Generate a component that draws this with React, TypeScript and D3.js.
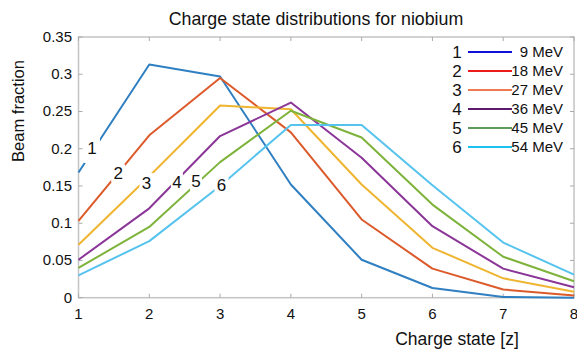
import React from "react";
import * as d3 from "d3";

const chargeStates = [1, 2, 3, 4, 5, 6, 7, 8];
const energies = ["9 MeV", "18 MeV", "27 MeV", "36 MeV", "45 MeV", "54 MeV"];
const s1 = [0.168, 0.313, 0.297, 0.152, 0.051, 0.013, 0.001, 0.0];
const s2 = [0.103, 0.218, 0.295, 0.222, 0.105, 0.039, 0.011, 0.003];
const s3 = [0.071, 0.163, 0.258, 0.253, 0.152, 0.067, 0.026, 0.008];
const s4 = [0.051, 0.12, 0.217, 0.262, 0.188, 0.096, 0.039, 0.014];
const s5 = [0.04, 0.095, 0.182, 0.251, 0.215, 0.125, 0.055, 0.022];
const s6 = [0.03, 0.076, 0.15, 0.232, 0.232, 0.151, 0.074, 0.031];
const series = [s1, s2, s3, s4, s5, s6];
const labelX = [1.19, 1.56, 1.96, 2.39, 2.66, 3.02];
const labelY = [0.201, 0.167, 0.154, 0.156, 0.157, 0.151];
const yTicks = [0, 0.05, 0.1, 0.15, 0.2, 0.25, 0.3, 0.35];
const yTickLabels = ["0", "0.05", "0.1", "0.15", "0.2", "0.25", "0.3", "0.35"];

const lineColors = ["#2f7fc1", "#dc5a2a", "#efb530", "#8a3597", "#7db33a", "#55c3ee"];
const legendColors = ["#1010d8", "#ec1c1c", "#ef7a52", "#5c1a6c", "#5e9a5c", "#1ec0f0"];
const gapSizes = [[16, 30], [14, 18], [14, 20], [12, 20], [12, 20], [14, 18]];

export default function App() {
  const W = 577, H = 349;
  const x = d3.scaleLinear().domain([1, 8]).range([78.5, 574]);
  const y = d3.scaleLinear().domain([0, 0.35]).range([297.7, 37]);
  const line = d3.line<number>().x((_, i) => x(chargeStates[i])).y((d) => y(d));
  const font = "'Liberation Sans', Arial, Helvetica, sans-serif";
  const frame = "#c4c4c4";
  return (
    <svg width={W} height={H} style={{ position: "absolute", left: 0, top: 0, background: "#fff" }} fontFamily={font}>
      <rect x={0} y={0} width={W} height={H} fill="#fff" />
      <text x={316} y={25} fontSize={17.8} textAnchor="middle" fill="#111">Charge state distributions for niobium</text>
      <rect x={x(1)} y={y(0.35)} width={x(8) - x(1)} height={y(0) - y(0.35)} fill="none" stroke={frame} strokeWidth={1.5} />
      {chargeStates.map((c) => (
        <g key={"xt" + c}>
          <line x1={x(c)} x2={x(c)} y1={y(0)} y2={y(0) - 4} stroke="#aaa" />
          <line x1={x(c)} x2={x(c)} y1={y(0.35)} y2={y(0.35) + 4} stroke="#aaa" />
          <text x={x(c)} y={319} fontSize={15} textAnchor="middle" fill="#111">{c}</text>
        </g>
      ))}
      {yTicks.map((t, i) => (
        <g key={"yt" + i}>
          <line x1={x(1)} x2={x(1) + 4} y1={y(t)} y2={y(t)} stroke="#aaa" />
          <line x1={x(8)} x2={x(8) - 4} y1={y(t)} y2={y(t)} stroke="#aaa" />
          <text x={72} y={y(t) + 5} fontSize={15} textAnchor="end" fill="#111">{yTickLabels[i]}</text>
        </g>
      ))}
      <text x={457} y={345} fontSize={17.5} textAnchor="middle" fill="#111">Charge state [z]</text>
      <text transform="translate(24,111) rotate(-90)" fontSize={16.5} textAnchor="middle" fill="#111">Beam fraction</text>
      {series.map((s, i) => (
        <path key={"l" + i} d={line(s) || ""} fill="none" stroke={lineColors[i]} strokeWidth={2} strokeLinejoin="round" />
      ))}
      {series.map((_, i) => (
        <g key={"lb" + i}>
          <rect x={x(labelX[i]) - gapSizes[i][0] / 2} y={y(labelY[i]) - gapSizes[i][1] / 2} width={gapSizes[i][0]} height={gapSizes[i][1]} fill="#fff" />
          <text x={x(labelX[i])} y={y(labelY[i]) + 6} fontSize={17} textAnchor="middle" fill="#111">{i + 1}</text>
        </g>
      ))}
      {energies.map((e, i) => (
        <g key={"lg" + i}>
          <text x={457} y={58 + i * 19} fontSize={17} textAnchor="middle" fill="#111">{i + 1}</text>
          <line x1={468} x2={512} y1={52 + i * 19} y2={52 + i * 19} stroke={legendColors[i]} strokeWidth={2.2} />
          <text x={563} y={57 + i * 19} fontSize={15} textAnchor="end" fill="#111">{e}</text>
        </g>
      ))}
    </svg>
  );
}
